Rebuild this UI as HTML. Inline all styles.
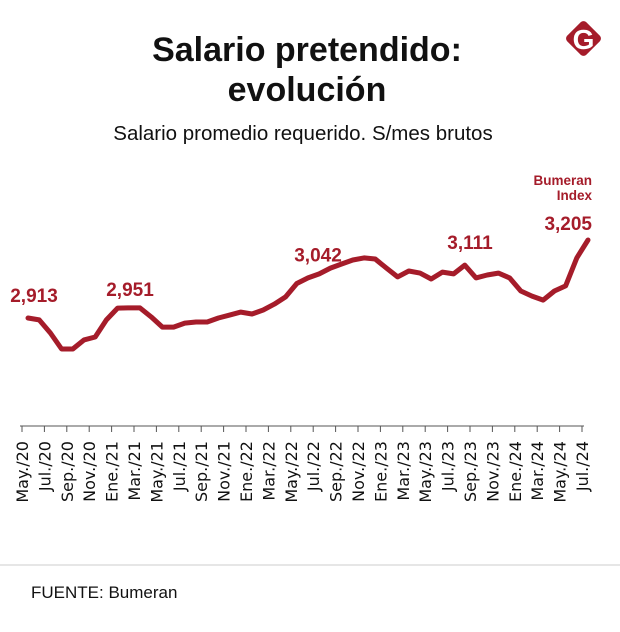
<!DOCTYPE html>
<html><head><meta charset="utf-8">
<style>
html,body{margin:0;padding:0;background:#fff;}
body{width:620px;height:627px;overflow:hidden;position:relative;font-family:"Liberation Sans","DejaVu Sans",sans-serif;}
</style></head>
<body>
<svg id="chart" width="620" height="627" viewBox="0 0 620 627" xmlns="http://www.w3.org/2000/svg">
  <text x="307" y="61" text-anchor="middle" font-size="34" font-weight="bold" fill="#111">Salario pretendido:</text>
  <text x="307" y="101" text-anchor="middle" font-size="34" font-weight="bold" fill="#111">evolución</text>
  <text x="303" y="140" text-anchor="middle" font-size="20.5" fill="#111">Salario promedio requerido. S/mes brutos</text>
  <g>
    <rect x="570" y="25" width="27" height="27" rx="4" transform="rotate(45 583.5 38.5)" fill="#a51c2a"/>
    <text x="583.5" y="49" text-anchor="middle" font-size="28" font-weight="bold" fill="#fff">G</text>
  </g>
  <text x="592" y="185" text-anchor="end" font-size="13.5" font-weight="bold" fill="#a51c2a">Bumeran</text>
  <text x="592" y="200" text-anchor="end" font-size="13.5" font-weight="bold" fill="#a51c2a">Index</text>
  <g id="axis"></g>
  <g id="plot"></g>
  <line x1="0" y1="565" x2="620" y2="565" stroke="#ddd" stroke-width="1.5"/>
  <text x="31" y="598" font-size="17" fill="#111">FUENTE: Bumeran</text>
</svg>
<script>
const tickLabels = ["May./20","Jul./20","Sep./20","Nov./20","Ene./21","Mar./21","May./21","Jul./21","Sep./21","Nov./21","Ene./22","Mar./22","May./22","Jul./22","Sep./22","Nov./22","Ene./23","Mar./23","May./23","Jul./23","Sep./23","Nov./23","Ene./24","Mar./24","May./24","Jul./24"];
const salaries = [2913,2906,2857,2797,2797,2831,2842,2906,2950,2951,2951,2917,2879,2879,2894,2898,2898,2913,2924,2935,2928,2943,2965,2992,3042,3063,3078,3100,3115,3130,3138,3134,3100,3067,3089,3081,3059,3085,3078,3111,3063,3074,3081,3063,3014,2995,2980,3014,3033,3138,3205];
const annotIdx = [0,9,24,39,50];
const annotText = ["2,913","2,951","3,042","3,111","3,205"];

const NS="http://www.w3.org/2000/svg";
function xPos(i){return 28+11.2*i;}
function yPos(v){return 318-(v-2913)*0.2671;}
function tickX(k){return 22+22.4*k;}
const axis=document.getElementById('axis');
const plot=document.getElementById('plot');
const base=document.createElementNS(NS,'line');
base.setAttribute('x1',20);base.setAttribute('x2',tickX(tickLabels.length-1)+2);
base.setAttribute('y1',426);base.setAttribute('y2',426);
base.setAttribute('stroke','#555');base.setAttribute('stroke-width','1');


axis.appendChild(base);
tickLabels.forEach((t,k)=>{
  const tk=document.createElementNS(NS,'line');
  tk.setAttribute('x1',tickX(k));tk.setAttribute('x2',tickX(k));
  tk.setAttribute('y1',426);tk.setAttribute('y2',432);
  tk.setAttribute('stroke','#555');
  
  
  axis.appendChild(tk);
  const tx=document.createElementNS(NS,'text');
  const cx=tickX(k)+6, cy=441;
  tx.setAttribute('x',cx);tx.setAttribute('y',cy);
  tx.setAttribute('text-anchor','end');
  tx.setAttribute('font-size','16');
  tx.setAttribute('fill','#111');
  tx.setAttribute('font-family','"DejaVu Sans","Liberation Sans",sans-serif');
  tx.setAttribute('transform','rotate(-90 '+cx+' '+cy+')');
  tx.textContent=t;
  
  
  axis.appendChild(tx);
});
const path=document.createElementNS(NS,'path');
path.setAttribute('d',salaries.map((v,i)=>(i?'L':'M')+xPos(i).toFixed(1)+' '+yPos(v).toFixed(1)).join(' '));
path.setAttribute('fill','none');path.setAttribute('stroke','#a51c2a');
path.setAttribute('stroke-width','5');path.setAttribute('stroke-linejoin','round');path.setAttribute('stroke-linecap','round');


plot.appendChild(path);
annotIdx.forEach((i,n)=>{
  const t=document.createElementNS(NS,'text');
  let x=xPos(i), y=yPos(salaries[i])-20;
  let anchor='middle';
  if(n===0){x=34;y=yPos(salaries[i])-16;}
  if(n===1){x=130;y=yPos(salaries[i])-12;}
  if(n===2){x=318;y=yPos(salaries[i])-22;}
  if(n===3){x=470;y=yPos(salaries[i])-16;}
  if(n===4){x=592;y=yPos(salaries[i])-10;anchor='end';}
  t.setAttribute('x',x);t.setAttribute('y',y);
  t.setAttribute('text-anchor',anchor);
  t.setAttribute('font-size','19');t.setAttribute('font-weight','bold');t.setAttribute('fill','#a51c2a');
  t.textContent=annotText[n];
  
  
  plot.appendChild(t);
});
</script>
</body></html>
